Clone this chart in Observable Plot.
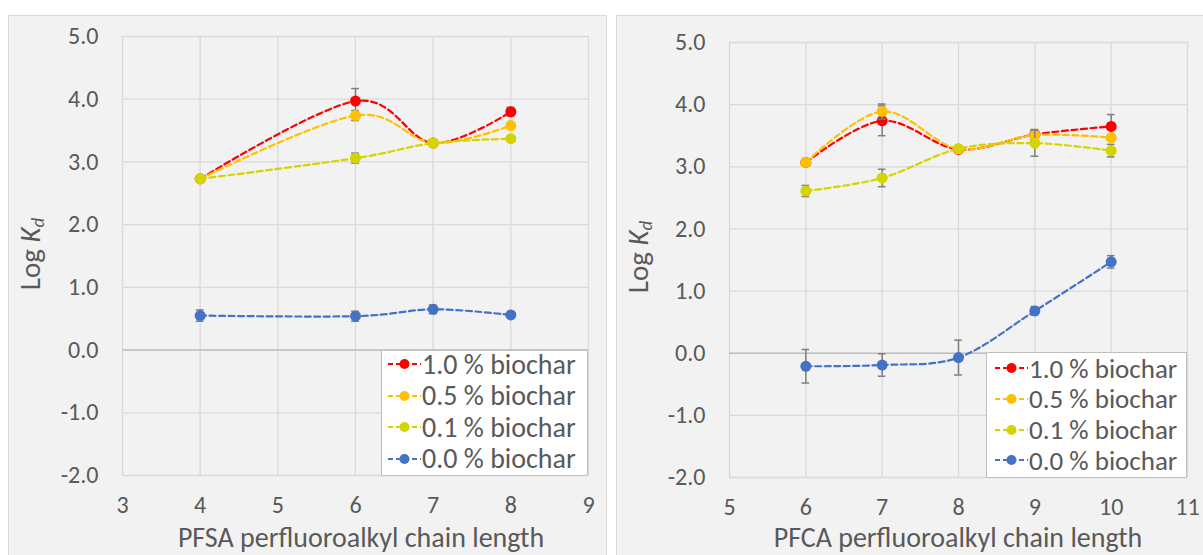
<!DOCTYPE html>
<html><head><meta charset="utf-8">
<script src="https://cdn.jsdelivr.net/npm/d3@7"></script>
<script src="https://cdn.jsdelivr.net/npm/@observablehq/plot@0.6"></script>
<style>
html,body{margin:0;padding:0;background:#fff;}
#root{position:relative;width:1203px;height:555px;overflow:hidden;font-family:Carlito,Calibri,Lato,sans-serif;color:#595959;}
.panel{position:absolute;top:15px;height:600px;background:#f2f2f2;border:1px solid #d9d9d9;box-sizing:border-box;}
.chart{position:absolute;top:15px;}
.legend{position:absolute;background:#fff;border:1px solid #bfbfbf;box-sizing:border-box;}
.row{position:absolute;left:0;height:30px;display:flex;align-items:center;white-space:nowrap;color:#595959;}
.row svg{flex:none;}
.ytitle{position:absolute;transform:translate(-50%,-50%) rotate(-90deg);white-space:nowrap;font-size:29px;line-height:1;}
.xtitle{position:absolute;transform:translateX(-50%);white-space:nowrap;font-size:28px;line-height:1;}
</style>
</head><body>
<div id="root">
  <div class="panel" style="left:8px;width:599px;"></div>
  <div class="panel" style="left:616px;width:600px;"></div>
</div>
<script>
// ---- data ----
const series = ["1.0 % biochar", "0.5 % biochar", "0.1 % biochar", "0.0 % biochar"];
const seriesColors = ["#ff0000", "#ffc000", "#d4d400", "#4472c4"];
const yTicks = [-2, -1, 0, 1, 2, 3, 4, 5];

// PFSA (left panel)
const pfsaChain = [4, 6, 7, 8];
const pfsaXTicks = [3, 4, 5, 6, 7, 8, 9];
const pfsa10 = [2.73, 3.97, 3.30, 3.80];
const pfsa10Err = [0.02, 0.20, 0.02, 0.07];
const pfsa05 = [2.73, 3.74, 3.30, 3.58];
const pfsa05Err = [0.02, 0.08, 0.02, 0.04];
const pfsa01 = [2.73, 3.06, 3.30, 3.37];
const pfsa01Err = [0.02, 0.08, 0.02, 0.02];
const pfsa00 = [0.55, 0.54, 0.65, 0.56];
const pfsa00Err = [0.09, 0.08, 0.07, 0.03];

// PFCA (right panel)
const pfcaChain = [6, 7, 8, 9, 10];
const pfcaXTicks = [5, 6, 7, 8, 9, 10, 11];
const pfca10 = [3.07, 3.74, 3.28, 3.52, 3.65];
const pfca10Err = [0.03, 0.24, 0.02, 0.08, 0.19];
const pfca05 = [3.07, 3.89, 3.29, 3.51, 3.47];
const pfca05Err = [0.03, 0.12, 0.02, 0.08, 0.04];
const pfca01 = [2.61, 2.82, 3.29, 3.38, 3.26];
const pfca01Err = [0.09, 0.14, 0.02, 0.21, 0.10];
const pfca00 = [-0.21, -0.19, -0.07, 0.68, 1.47];
const pfca00Err = [0.27, 0.18, 0.28, 0.07, 0.10];

function rows(xs, ys, errs, s) {
  return xs.map((x, i) => ({series: s, x, y: ys[i], err: errs[i]}));
}

const fontFamily = "Carlito, Calibri, Lato, sans-serif";

function panel({xTicks, data, width, height, marginLeft, marginRight, marginTop, marginBottom}) {
  const capHalf = 0.05;
  const marks = [
    Plot.gridX(xTicks, {stroke: "#d9d9d9", strokeOpacity: 1, strokeWidth: 1.3}),
    Plot.gridY(yTicks, {stroke: "#d9d9d9", strokeOpacity: 1, strokeWidth: 1.3}),
    Plot.ruleY([0], {stroke: "#bfbfbf", strokeWidth: 1.5}),
    Plot.axisX(xTicks, {tickSize: 0, tickPadding: 20, fontSize: 24, fill: "#595959", label: null}),
    Plot.axisY(yTicks, {tickSize: 0, tickPadding: 24, fontSize: 24, fill: "#595959", label: null, tickFormat: d => d.toFixed(1)})
  ];
  data.forEach((rs, k) => {
    const c = seriesColors[k];
    marks.push(
      Plot.ruleX(rs, {x: "x", y1: d => d.y - d.err, y2: d => d.y + d.err, stroke: "#7f7f7f", strokeWidth: 1.5}),
      Plot.ruleY(rs, {y: d => d.y - d.err, x1: d => d.x - capHalf, x2: d => d.x + capHalf, stroke: "#7f7f7f", strokeWidth: 1.5}),
      Plot.ruleY(rs, {y: d => d.y + d.err, x1: d => d.x - capHalf, x2: d => d.x + capHalf, stroke: "#7f7f7f", strokeWidth: 1.5}),
      Plot.line(rs, {x: "x", y: "y", stroke: c, strokeWidth: 2.2, strokeDasharray: "6,3.5", curve: d3.curveCatmullRom.alpha(0)}),
      Plot.dot(rs, {x: "x", y: "y", fill: c, r: 5.5, stroke: "none"})
    );
  });
  return Plot.plot({
    width, height, marginLeft, marginRight, marginTop, marginBottom,
    x: {domain: [xTicks[0], xTicks[xTicks.length - 1]]},
    y: {domain: [-2, 5]},
    style: {background: "transparent", fontFamily, color: "#595959", overflow: "visible"},
    marks
  });
}

const root = document.getElementById("root");

const leftData = [
  rows(pfsaChain, pfsa10, pfsa10Err, series[0]),
  rows(pfsaChain, pfsa05, pfsa05Err, series[1]),
  rows(pfsaChain, pfsa01, pfsa01Err, series[2]),
  rows(pfsaChain, pfsa00, pfsa00Err, series[3])
];
const rightData = [
  rows(pfcaChain, pfca10, pfca10Err, series[0]),
  rows(pfcaChain, pfca05, pfca05Err, series[1]),
  rows(pfcaChain, pfca01, pfca01Err, series[2]),
  rows(pfcaChain, pfca00, pfca00Err, series[3])
];

function place(el, left) {
  el.classList.add("chart");
  el.style.left = left + "px";
  root.appendChild(el);
}

place(panel({xTicks: pfsaXTicks, data: leftData, width: 598, height: 545,
  marginLeft: 114, marginRight: 18, marginTop: 21, marginBottom: 85}), 8);
place(panel({xTicks: pfcaXTicks, data: rightData, width: 587, height: 545,
  marginLeft: 113, marginRight: 16, marginTop: 27, marginBottom: 83}), 616);

function legend(left, top, width, height, sampleLeft, rowTop, step, fontSize) {
  const lg = document.createElement("div");
  lg.className = "legend";
  Object.assign(lg.style, {left: left + "px", top: top + "px", width: width + "px", height: height + "px"});
  series.forEach((s, i) => {
    const r = document.createElement("div");
    r.className = "row";
    r.style.top = (rowTop + i * step) + "px";
    r.style.left = sampleLeft + "px";
    r.style.fontSize = fontSize + "px";
    const c = seriesColors[i];
    r.innerHTML = `<svg width="33" height="20"><line x1="0" y1="10" x2="33" y2="10" stroke="${c}" stroke-width="2" stroke-dasharray="5,3"/><circle cx="16.5" cy="10" r="5" fill="${c}"/></svg><span style="margin-left:1px">${s}</span>`;
    lg.appendChild(r);
  });
  root.appendChild(lg);
}
legend(381, 350, 207, 126, 6, -2, 31.6, 28);
legend(986, 352, 201, 126, 8, 0, 30.8, 27);

function ytitle(cx, cy) {
  const d = document.createElement("div");
  d.className = "ytitle";
  d.style.left = cx + "px"; d.style.top = cy + "px";
  d.innerHTML = 'Log <i>K</i><sub style="font-size:0.65em;vertical-align:-0.2em"><i>d</i></sub>';
  root.appendChild(d);
}
ytitle(32, 254);
ytitle(640, 257);

function xtitle(cx, top, text) {
  const d = document.createElement("div");
  d.className = "xtitle";
  d.style.left = cx + "px"; d.style.top = top + "px";
  d.textContent = text;
  root.appendChild(d);
}
xtitle(361, 524, "PFSA perfluoroalkyl chain length");
xtitle(958, 524, "PFCA perfluoroalkyl chain length");
</script>
</body></html>
